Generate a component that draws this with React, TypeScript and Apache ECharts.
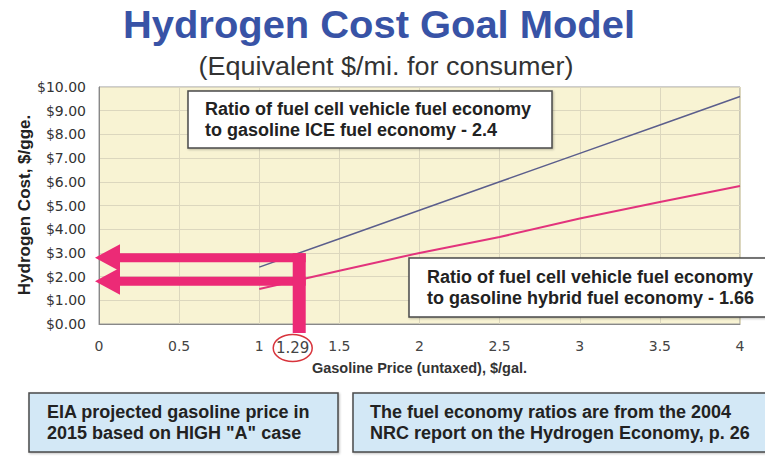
import React, { useEffect, useRef } from "react";
import * as echarts from "echarts";

// ---- data ----
const gasPrices = [1, 1.5, 2, 2.5, 3, 3.5, 4];
const iceRatioCost = [2.4, 3.6, 4.8, 6.0, 7.2, 8.4, 9.6];
const hybridRatioCost = [1.48, 2.25, 3.0, 3.67, 4.45, 5.15, 5.82];
const projectedGasPrice = 1.29;
const arrowCosts = [2.8, 1.8];

const titleText = "Hydrogen Cost Goal Model";
const subtitleText = "(Equivalent $/mi. for consumer)";
const yAxisName = "Hydrogen Cost, $/gge.";
const xAxisName = "Gasoline Price (untaxed), $/gal.";
const iceNote = "Ratio of fuel cell vehicle fuel economy\nto gasoline ICE fuel economy - 2.4";
const hybridNote = "Ratio of fuel cell vehicle fuel economy\nto gasoline hybrid fuel economy - 1.66";
const eiaNote = "EIA projected gasoline price in\n2015 based on HIGH \"A\" case";
const nrcNote = "The fuel economy ratios are from the 2004\nNRC report on the Hydrogen Economy, p. 26";

const FONT = "'Liberation Sans', Arial, Helvetica, sans-serif";
const WIDE = "'DejaVu Sans', Verdana, sans-serif";
const PINK = "#EC2A76";

export default function App() {
  const ref = useRef<HTMLDivElement>(null);

  useEffect(() => {
    document.body.style.margin = "0";
    if (!ref.current) return;
    const chart = echarts.init(ref.current, undefined, { renderer: "svg" });

    const option: any = {
      animation: false,
      backgroundColor: "#ffffff",
      textStyle: { fontFamily: FONT },
      grid: {
        left: 99,
        right: 25,
        top: 87,
        bottom: 132,
        show: true,
        backgroundColor: "#F8F3D3",
        borderColor: "#9a9a9a",
        borderWidth: 1,
      },
      xAxis: {
        type: "value",
        min: 0,
        max: 4,
        interval: 0.5,
        name: xAxisName,
        nameLocation: "middle",
        nameGap: 36,
        nameTextStyle: { fontFamily: FONT, fontSize: 14.5, fontWeight: "bold", color: "#333" },
        axisLine: { show: true, lineStyle: { color: "#888", width: 1 } },
        axisTick: { show: false },
        axisLabel: { margin: 15, fontSize: 14, color: "#444", fontFamily: WIDE },
        splitLine: { show: true, lineStyle: { color: "#DCD7BE", width: 1 } },
      },
      yAxis: {
        type: "value",
        min: 0,
        max: 10,
        interval: 1,
        axisLine: { show: true, lineStyle: { color: "#888", width: 1 } },
        axisTick: { show: false },
        axisLabel: {
          margin: 13,
          fontSize: 14,
          color: "#333",
          fontFamily: WIDE,
          formatter: (v: number) => "$" + v.toFixed(2),
        },
        splitLine: { show: true, lineStyle: { color: "#DCD7BE", width: 1 } },
      },
      series: [
        {
          name: "ICE ratio 2.4",
          type: "line",
          data: gasPrices.map((g, i) => [g, iceRatioCost[i]]),
          showSymbol: false,
          lineStyle: { color: "#5B5E8C", width: 1.5 },
          z: 3,
        },
        {
          name: "Hybrid ratio 1.66",
          type: "line",
          data: gasPrices.map((g, i) => [g, hybridRatioCost[i]]),
          showSymbol: false,
          lineStyle: { color: "#E2337C", width: 2 },
          z: 3,
        },
      ],
    };
    chart.setOption(option);

    const P = (x: number, y: number) => chart.convertToPixel({ gridIndex: 0 }, [x, y]) as number[];
    const [x0, y0] = P(0, 0);
    const barRight = P(projectedGasPrice, 0)[0];
    const barW = 13;
    const tipX = x0 - 4;
    const headLen = 25;
    const headHalf = 13.5;
    const barHalf = 4.5;

    const arrows = arrowCosts.map((c) => {
      const yc = P(0, c)[1];
      return {
        type: "polygon",
        z: 50,
        shape: {
          points: [
            [tipX, yc],
            [tipX + headLen, yc - headHalf],
            [tipX + headLen, yc - barHalf],
            [barRight, yc - barHalf],
            [barRight, yc + barHalf],
            [tipX + headLen, yc + barHalf],
            [tipX + headLen, yc + headHalf],
          ],
        },
        style: { fill: PINK },
      };
    });
    const topY = P(0, Math.max(...arrowCosts))[1] - barHalf;
    const labelX = barRight - barW;
    const labelY = y0 + 24;

    const noteBox = (
      x: number, y: number, w: number, h: number, text: string, tx: number,
      fill: string, fontSize: number, lineHeight: number
    ) => ({
      type: "group",
      z: 60,
      children: [
        {
          type: "rect",
          shape: { x, y, width: w, height: h },
          style: { fill, stroke: "#4a4a4a", lineWidth: 1.5, shadowColor: "rgba(0,0,0,0.25)", shadowBlur: 2, shadowOffsetX: 1, shadowOffsetY: 1 },
        },
        {
          type: "text",
          x: tx,
          y: y + h / 2,
          style: {
            text,
            fill: "#222",
            fontFamily: FONT,
            fontWeight: "bold",
            fontSize,
            lineHeight,
            align: "left",
            verticalAlign: "middle",
          },
        },
      ],
    });

    chart.setOption({
      graphic: [
        {
          type: "text",
          x: 379,
          y: 25,
          scaleX: 1.05,
          style: { text: titleText, fill: "#3853A6", fontFamily: FONT, fontWeight: "bold", fontSize: 38, align: "center", verticalAlign: "middle" },
        },
        {
          type: "text",
          x: 386,
          y: 66,
          scaleX: 1.08,
          style: { text: subtitleText, fill: "#333", fontFamily: FONT, fontSize: 25, align: "center", verticalAlign: "middle" },
        },
        {
          type: "text",
          x: 24,
          y: 205,
          rotation: Math.PI / 2,
          style: { text: yAxisName, fill: "#222", fontFamily: FONT, fontWeight: "bold", fontSize: 17, align: "center", verticalAlign: "middle" },
        },
        ...arrows,
        {
          type: "rect",
          z: 50,
          shape: { x: barRight - barW, y: topY, width: barW, height: y0 + 9 - topY },
          style: { fill: PINK },
        },
        {
          type: "ellipse",
          z: 55,
          shape: { cx: labelX, cy: labelY, rx: 19.5, ry: 13.5 },
          style: { fill: "#ffffff", stroke: "#D8343C", lineWidth: 1.5 },
        },
        {
          type: "text",
          z: 56,
          x: labelX,
          y: labelY,
          style: { text: String(projectedGasPrice), fill: "#444", fontFamily: WIDE, fontSize: 15, align: "center", verticalAlign: "middle" },
        },
        noteBox(188, 91, 364, 57, iceNote, 205, "#ffffff", 18, 21),
        noteBox(409, 258, 365, 59, hybridNote, 427, "#ffffff", 18, 21),
        noteBox(29, 393, 309, 59, eiaNote, 47, "#D3E8F6", 18, 21),
        noteBox(353, 393, 420, 59, nrcNote, 370, "#D3E8F6", 18, 21),
      ],
    });

    return () => chart.dispose();
  }, []);

  return <div ref={ref} style={{ width: 765, height: 456 }} />;
}
